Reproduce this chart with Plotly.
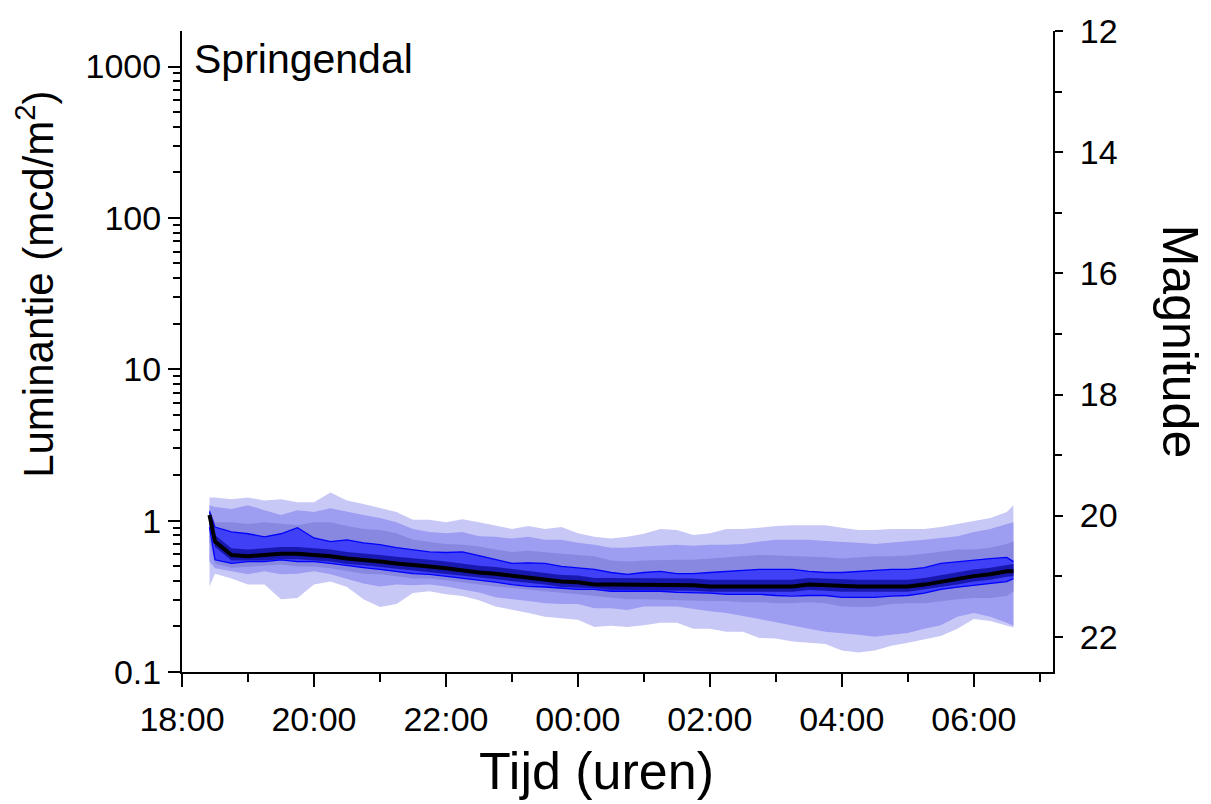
import numpy as np
import plotly.graph_objects as go

# --- data (sky brightness, magnitude per arcsec^2) ---
times = ["18:25", "18:30", "18:45", "19:00", "19:15", "19:30", "19:45", "20:00", "20:15", "20:30",
         "20:45", "21:00", "21:15", "21:30", "21:45", "22:00", "22:15", "22:30", "22:45", "23:00",
         "23:15", "23:30", "23:45", "00:00", "00:15", "00:30", "00:45", "01:00", "01:15", "01:30",
         "01:45", "02:00", "02:15", "02:30", "02:45", "03:00", "03:15", "03:30", "03:45", "04:00",
         "04:15", "04:30", "04:45", "05:00", "05:15", "05:30", "05:45", "06:00", "06:15", "06:30",
         "06:36"]

# outer band (lightest)
U1 = [19.70, 19.70, 19.73, 19.70, 19.75, 19.73, 19.78, 19.78, 19.62, 19.75,
      19.81, 19.88, 19.94, 20.07, 20.07, 20.11, 20.06, 20.11, 20.17, 20.22,
      20.17, 20.22, 20.19, 20.29, 20.35, 20.38, 20.35, 20.30, 20.22, 20.24,
      20.32, 20.29, 20.22, 20.22, 20.20, 20.17, 20.16, 20.16, 20.16, 20.20,
      20.24, 20.24, 20.22, 20.22, 20.22, 20.19, 20.14, 20.09, 20.04, 19.94,
      19.83]
D1 = [21.17, 20.96, 21.04, 21.14, 21.14, 21.38, 21.36, 21.14, 21.09, 21.18,
      21.38, 21.51, 21.46, 21.28, 21.25, 21.30, 21.33, 21.40, 21.50, 21.56,
      21.61, 21.67, 21.69, 21.72, 21.84, 21.82, 21.84, 21.81, 21.77, 21.77,
      21.87, 21.87, 21.92, 21.92, 22.02, 22.03, 22.08, 22.10, 22.12, 22.23,
      22.26, 22.23, 22.15, 22.10, 22.05, 21.99, 21.87, 21.71, 21.74, 21.82,
      21.85]
# second band
U2 = [19.83, 19.86, 19.89, 19.83, 19.91, 19.99, 19.91, 19.94, 19.88, 19.94,
      19.99, 20.04, 20.11, 20.22, 20.27, 20.29, 20.27, 20.34, 20.35, 20.38,
      20.35, 20.40, 20.40, 20.45, 20.48, 20.53, 20.53, 20.51, 20.50, 20.48,
      20.50, 20.48, 20.48, 20.47, 20.43, 20.40, 20.40, 20.40, 20.42, 20.43,
      20.45, 20.47, 20.45, 20.42, 20.40, 20.37, 20.34, 20.27, 20.22, 20.14,
      20.11]
D2 = [20.76, 20.87, 20.92, 20.97, 20.92, 20.97, 20.96, 20.92, 20.97, 21.05,
      21.12, 21.17, 21.14, 21.15, 21.14, 21.17, 21.22, 21.27, 21.35, 21.38,
      21.41, 21.45, 21.46, 21.46, 21.53, 21.53, 21.56, 21.50, 21.50, 21.50,
      21.54, 21.58, 21.61, 21.66, 21.71, 21.76, 21.81, 21.87, 21.92, 21.94,
      21.97, 22.00, 21.97, 21.94, 21.87, 21.81, 21.67, 21.61, 21.67, 21.77,
      21.82]
# third band (greyish)
U3 = [19.89, 20.11, 20.11, 20.14, 20.11, 20.14, 20.16, 20.11, 20.11, 20.17,
      20.22, 20.24, 20.29, 20.40, 20.43, 20.47, 20.48, 20.51, 20.56, 20.60,
      20.58, 20.61, 20.63, 20.65, 20.67, 20.74, 20.76, 20.74, 20.73, 20.73,
      20.73, 20.71, 20.69, 20.66, 20.65, 20.66, 20.67, 20.67, 20.69, 20.71,
      20.69, 20.67, 20.67, 20.66, 20.63, 20.60, 20.56, 20.56, 20.53, 20.47,
      20.43]
D3 = [20.43, 20.79, 20.86, 20.84, 20.83, 20.81, 20.84, 20.84, 20.87, 20.91,
      20.96, 20.97, 21.00, 21.04, 21.04, 21.07, 21.10, 21.14, 21.17, 21.20,
      21.22, 21.25, 21.28, 21.30, 21.33, 21.36, 21.38, 21.38, 21.38, 21.40,
      21.40, 21.41, 21.41, 21.43, 21.43, 21.45, 21.45, 21.43, 21.45, 21.50,
      21.51, 21.50, 21.46, 21.45, 21.45, 21.41, 21.38, 21.36, 21.36, 21.33,
      21.25]
# fourth band (blue)
U4 = [19.93, 20.19, 20.27, 20.30, 20.35, 20.30, 20.20, 20.37, 20.43, 20.40,
      20.45, 20.48, 20.53, 20.56, 20.60, 20.61, 20.60, 20.66, 20.73, 20.79,
      20.78, 20.79, 20.84, 20.86, 20.89, 20.94, 20.97, 20.94, 20.92, 20.96,
      20.96, 20.94, 20.92, 20.91, 20.89, 20.89, 20.89, 20.92, 20.94, 20.94,
      20.92, 20.91, 20.89, 20.89, 20.86, 20.79, 20.76, 20.73, 20.71, 20.69,
      20.76]
D4 = [20.19, 20.73, 20.79, 20.76, 20.76, 20.73, 20.76, 20.76, 20.79, 20.83,
      20.86, 20.89, 20.92, 20.96, 20.97, 21.00, 21.04, 21.07, 21.10, 21.14,
      21.17, 21.18, 21.20, 21.22, 21.22, 21.25, 21.25, 21.25, 21.25, 21.27,
      21.27, 21.28, 21.30, 21.30, 21.30, 21.32, 21.33, 21.32, 21.32, 21.35,
      21.35, 21.35, 21.33, 21.32, 21.28, 21.22, 21.18, 21.15, 21.12, 21.09,
      21.04]
# inner band (dark blue)
U5 = [19.95, 20.32, 20.54, 20.56, 20.54, 20.52, 20.52, 20.54, 20.56, 20.60,
      20.62, 20.65, 20.68, 20.70, 20.73, 20.76, 20.80, 20.83, 20.85, 20.88,
      20.91, 20.94, 20.98, 20.99, 21.03, 21.03, 21.03, 21.03, 21.03, 21.04,
      21.04, 21.06, 21.06, 21.06, 21.06, 21.06, 21.06, 21.03, 21.04, 21.06,
      21.06, 21.06, 21.06, 21.06, 21.03, 20.98, 20.94, 20.89, 20.86, 20.81,
      20.80]
D5 = [20.05, 20.52, 20.74, 20.74, 20.74, 20.72, 20.72, 20.74, 20.76, 20.80,
      20.82, 20.85, 20.88, 20.90, 20.93, 20.96, 21.00, 21.03, 21.05, 21.08,
      21.11, 21.14, 21.18, 21.19, 21.20, 21.23, 21.23, 21.23, 21.23, 21.24,
      21.24, 21.26, 21.26, 21.26, 21.26, 21.26, 21.26, 21.23, 21.24, 21.26,
      21.26, 21.26, 21.26, 21.26, 21.23, 21.18, 21.14, 21.09, 21.06, 21.01,
      21.00]
# median
M = [19.99, 20.43, 20.65, 20.67, 20.65, 20.63, 20.63, 20.65, 20.67, 20.71,
     20.73, 20.76, 20.79, 20.81, 20.84, 20.87, 20.91, 20.94, 20.96, 20.99,
     21.02, 21.05, 21.09, 21.10, 21.14, 21.14, 21.14, 21.14, 21.14, 21.15,
     21.15, 21.17, 21.17, 21.17, 21.17, 21.17, 21.17, 21.14, 21.15, 21.17,
     21.17, 21.17, 21.17, 21.17, 21.14, 21.09, 21.05, 21.00, 20.97, 20.92,
     20.92]

lum_tick_vals = [0.1, 1, 10, 100, 1000]
lum_tick_text = ["0.1", "1", "10", "100", "1000"]
mag_tick_vals = [12, 14, 16, 18, 20, 22]
x_tick_text_format = "%H:%M"

K = 1.08e8  # mcd/m^2 at magnitude 0


def lum(mags):
    return [K * 10 ** (-0.4 * m) for m in mags]


def to_dt(t):
    hh, mm = (int(v) for v in t.split(":"))
    day = 1 if hh >= 12 else 2
    return f"2024-01-{day:02d} {hh:02d}:{mm:02d}:00"


x = [to_dt(t) for t in times]

fig = go.Figure()


def band(upper, lower, color):
    fig.add_trace(go.Scatter(
        x=x + x[::-1], y=lum(upper) + lum(lower)[::-1],
        fill="toself", fillcolor=color, mode="lines",
        line=dict(width=0, color=color), hoverinfo="skip", showlegend=False))


band(U1, D1, "#c8c8f7")
band(U2, D2, "#9d9df2")
band(U3, D3, "#8888e0")
band(U4, D4, "#4040f6")
band(U5, D5, "#1818b0")
for s in (U4, D4):
    fig.add_trace(go.Scatter(x=x, y=lum(s), mode="lines",
                             line=dict(color="#0000ff", width=1.3),
                             hoverinfo="skip", showlegend=False))
fig.add_trace(go.Scatter(x=x, y=lum(M), mode="lines",
                         line=dict(color="black", width=4),
                         showlegend=False))
# magnitude axis companion (invisible)
fig.add_trace(go.Scatter(x=x, y=M, yaxis="y2", mode="lines",
                         line=dict(width=0), opacity=0,
                         hoverinfo="skip", showlegend=False))

LOG_MIN, LOG_MAX = -1.0, 3.235
mag_bottom = -2.5 * (LOG_MIN - np.log10(K))
mag_top = -2.5 * (LOG_MAX - np.log10(K))

minor_vals = [m * 10 ** e for e in range(-1, 4) for m in range(2, 10)]

FONT = "Liberation Sans, Arial, sans-serif"
axis_common = dict(showline=True, linewidth=2, linecolor="black",
                   showgrid=False, zeroline=False, ticks="outside",
                   tickwidth=2, tickcolor="black",
                   tickfont=dict(family=FONT, size=34, color="black"))

fig.update_layout(
    width=1211, height=804,
    margin=dict(l=182, r=158, t=24, b=132),
    paper_bgcolor="white", plot_bgcolor="white",
    font=dict(family=FONT, color="black"),
    xaxis=dict(type="date",
               range=["2024-01-01 18:00:00", "2024-01-02 07:12:00"],
               tick0="2024-01-01 18:00:00", dtick=7200000,
               tickformat=x_tick_text_format, ticklen=13,
               ticklabelstandoff=3,
               minor=dict(dtick=3600000, ticks="outside", ticklen=8,
                          tickwidth=2, tickcolor="black", showgrid=False),
               **axis_common),
    yaxis=dict(type="log", range=[LOG_MIN, LOG_MAX],
               tickvals=lum_tick_vals, ticktext=lum_tick_text, ticklen=12,
               ticklabelstandoff=0,
               minor=dict(tickvals=minor_vals, ticks="outside", ticklen=7,
                          tickwidth=2, tickcolor="black", showgrid=False),
               **axis_common),
    yaxis2=dict(overlaying="y", side="right", range=[mag_bottom, mag_top],
                tickvals=mag_tick_vals, ticklen=8, ticklabelstandoff=10,
                minor=dict(dtick=1, ticks="outside", ticklen=7,
                           tickwidth=2, tickcolor="black", showgrid=False),
                **axis_common),
    annotations=[
        dict(text="Luminantie (mcd/m<sup>2</sup>)", xref="paper", yref="paper",
             x=-0.168, y=0.605, textangle=-90, showarrow=False,
             font=dict(family=FONT, size=42, color="black"),
             xanchor="center", yanchor="middle"),
        dict(text="Magnitude", xref="paper", yref="paper",
             x=1.146, y=0.515, textangle=90, showarrow=False,
             font=dict(family=FONT, size=50, color="black"),
             xanchor="center", yanchor="middle"),
        dict(text="Tijd (uren)", xref="paper", yref="paper",
             x=0.476, y=-0.154, showarrow=False,
             font=dict(family=FONT, size=52, color="black"),
             xanchor="center", yanchor="middle"),
        dict(text="Springendal", xref="paper", yref="paper",
             x=0.012, y=0.957, showarrow=False,
             font=dict(family=FONT, size=41, color="black"),
             xanchor="left", yanchor="middle"),
    ],
)

fig.write_html("out.html",
               config={"displayModeBar": False},
               post_script="document.body.style.margin='0px';"
                           "document.body.style.overflow='hidden';")
